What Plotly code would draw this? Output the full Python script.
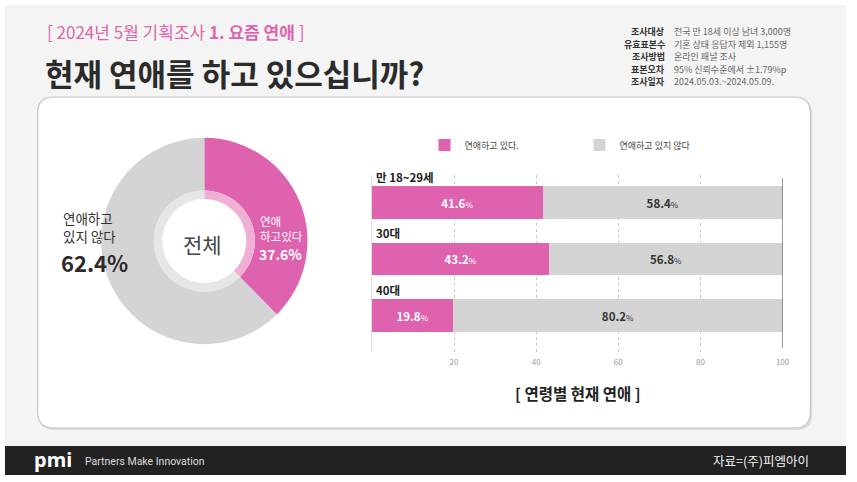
import plotly.graph_objects as go

# ---------------- data ----------------
overall_labels = ["연애하고 있다", "연애하고 있지 않다"]
overall_values = [37.6, 62.4]

age_groups = ["만 18~29세", "30대", "40대"]
dating_yes = [41.6, 43.2, 19.8]
dating_no = [58.4, 56.8, 80.2]
series_names = ["연애하고 있다.", "연애하고 있지 않다"]
x_ticks = [20, 40, 60, 80, 100]

info_labels = ["조사대상", "유효표본수", "조사방법", "표본오차", "조사일자"]
info_values = ["전국 만 18세 이상 남녀 3,000명", "기혼 상태 응답자 제외 1,155명",
               "온라인 패널 조사", "95% 신뢰수준에서 ±1.79%p", "2024.05.03.~2024.05.09."]

# ---------------- style ----------------
W, H = 857, 482
PINK = "#df62ae"
GRAY = "#d4d4d4"
FONT = "Noto Sans CJK KR"


def px(x):
    return x / W


def py(y):
    return 1 - y / H


def rounded_rect(x0, y0, x1, y1, r):
    rx, ry = r / W, r / H
    X0, X1 = px(x0), px(x1)
    Y0, Y1 = py(y0), py(y1)  # Y0 top, Y1 bottom
    return (f"M{X0+rx},{Y0} L{X1-rx},{Y0} Q{X1},{Y0} {X1},{Y0-ry} "
            f"L{X1},{Y1+ry} Q{X1},{Y1} {X1-rx},{Y1} L{X0+rx},{Y1} "
            f"Q{X0},{Y1} {X0},{Y1+ry} L{X0},{Y0-ry} Q{X0},{Y0} {X0+rx},{Y0} Z")


fig = go.Figure()

# ---------------- donut ----------------
cx, cy, R = 206, 241, 104
fig.add_trace(go.Pie(
    labels=overall_labels, values=overall_values, sort=False, direction="clockwise",
    rotation=0, hole=0.49, marker=dict(colors=[PINK, GRAY], line=dict(width=0)),
    textinfo="none", hoverinfo="label+percent", showlegend=False,
    domain=dict(x=[px(cx - R), px(cx + R)], y=[py(cy + R), py(cy - R)]),
))
r2 = R * 0.49
fig.add_trace(go.Pie(
    labels=overall_labels, values=overall_values, sort=False, direction="clockwise",
    rotation=0, hole=0.83, marker=dict(colors=["#f0b0d6", "#e6e6e6"], line=dict(width=0)),
    textinfo="none", hoverinfo="skip", showlegend=False,
    domain=dict(x=[px(cx - r2), px(cx + r2)], y=[py(cy + r2), py(cy - r2)]),
))

# ---------------- stacked bars ----------------
def pct_text(v):
    return f"<b>{v}</b><span style='font-size:8px'>%</span>"


fig.add_trace(go.Bar(
    y=age_groups, x=dating_yes, name=series_names[0], orientation="h",
    marker=dict(color=PINK, line=dict(width=0)), width=0.576,
    text=[pct_text(v) for v in dating_yes], textposition="inside",
    insidetextanchor="middle", textangle=0, constraintext="none",
    insidetextfont=dict(color="white", size=11.5, family=FONT),
    xaxis="x", yaxis="y",
))
fig.add_trace(go.Bar(
    y=age_groups, x=dating_no, name=series_names[1], orientation="h",
    marker=dict(color=GRAY, line=dict(width=0)), width=0.576,
    text=[pct_text(v) for v in dating_no], textposition="inside",
    insidetextanchor="middle", textangle=0, constraintext="none",
    insidetextfont=dict(color="#333333", size=11.5, family=FONT),
    xaxis="x", yaxis="y",
))

# ---------------- shapes ----------------
shapes = [
    dict(type="rect", xref="paper", yref="paper", x0=px(5), x1=px(853), y0=py(446), y1=py(5),
         fillcolor="#f4f4f4", line=dict(width=0), layer="below"),
    dict(type="rect", xref="paper", yref="paper", x0=px(5), x1=px(853), y0=py(475), y1=py(446),
         fillcolor="#222222", line=dict(width=0), layer="below"),
    dict(type="path", xref="paper", yref="paper", path=rounded_rect(39, 99, 819, 430, 16),
         fillcolor="#dcdcdc", line=dict(width=0), layer="below"),
    dict(type="path", xref="paper", yref="paper", path=rounded_rect(38, 97, 817, 428, 16),
         fillcolor="white", line=dict(color="#c4c4c4", width=1.2), layer="below"),
    dict(type="line", xref="x", yref="y domain", x0=100, x1=100, y0=0.02, y1=0.98,
         line=dict(color="#555555", width=1.2)),
]

# ---------------- annotations ----------------
ann = []
ann.append(dict(text="[ 2024년 5월 기획조사 <b>1. 요즘 연애</b> ]", x=px(45), y=py(32),
                xref="paper", yref="paper", xanchor="left", yanchor="middle", showarrow=False,
                font=dict(family=FONT, size=17, color="#e065ae")))
ann.append(dict(text="<b>현재 연애를 하고 있으십니까?</b>", x=px(43), y=py(72),
                xref="paper", yref="paper", xanchor="left", yanchor="middle", showarrow=False,
                font=dict(family=FONT, size=31, color="#2b2b2b")))
for i, (lab, val) in enumerate(zip(info_labels, info_values)):
    yy = py(32 + i * 12.4)
    ann.append(dict(text=f"<b>{lab}</b>", x=px(672), y=yy, xref="paper", yref="paper",
                    xanchor="right", yanchor="middle", showarrow=False,
                    font=dict(family=FONT, size=9, color="#333333")))
    ann.append(dict(text=val, x=px(678), y=yy, xref="paper", yref="paper",
                    xanchor="left", yanchor="middle", showarrow=False,
                    font=dict(family=FONT, size=9, color="#666666")))

# donut labels
ann.append(dict(text="전체", x=px(cx - 2), y=py(cy + 3), xref="paper", yref="paper",
                xanchor="center", yanchor="middle", showarrow=False,
                font=dict(family=FONT, size=21, color="#444444")))
ann.append(dict(text="연애<br>하고있다", x=px(260), y=py(228), xref="paper", yref="paper",
                xanchor="left", yanchor="middle", align="left", showarrow=False,
                font=dict(family=FONT, size=11.5, color="white")))
ann.append(dict(text=f"<b>{overall_values[0]}%</b>", x=px(259), y=py(254), xref="paper", yref="paper",
                xanchor="left", yanchor="middle", showarrow=False,
                font=dict(family=FONT, size=14, color="white")))
ann.append(dict(text="연애하고<br>있지 않다", x=px(61), y=py(227), xref="paper", yref="paper",
                xanchor="left", yanchor="middle", align="left", showarrow=False,
                font=dict(family=FONT, size=13.5, color="#333333")))
ann.append(dict(text=f"<b>{overall_values[1]}%</b>", x=px(59), y=py(262), xref="paper", yref="paper",
                xanchor="left", yanchor="middle", showarrow=False,
                font=dict(family=FONT, size=22, color="#2b2b2b")))

# category labels above bars
for g in age_groups:
    ann.append(dict(text=f"<b>{g}</b>", x=0, y=g, xref="x", yref="y", xanchor="left",
                    yanchor="bottom", yshift=16, xshift=2, showarrow=False,
                    font=dict(family=FONT, size=11.5, color="#222222")))

ann.append(dict(text="<b>[ 연령별 현재 연애 ]</b>", x=px(583), y=py(393), xref="paper", yref="paper",
                xanchor="center", yanchor="middle", showarrow=False,
                font=dict(family=FONT, size=15.5, color="#222222")))

# footer
ann.append(dict(text="<b>pmi</b>", x=px(32), y=py(459), xref="paper", yref="paper",
                xanchor="left", yanchor="middle", showarrow=False,
                font=dict(family="Noto Sans", size=20, color="white")))
ann.append(dict(text="Partners Make Innovation", x=px(84), y=py(461), xref="paper", yref="paper",
                xanchor="left", yanchor="middle", showarrow=False,
                font=dict(family="Roboto", size=10.5, color="#dddddd")))
ann.append(dict(text="자료=(주)피엠아이", x=px(818), y=py(460), xref="paper", yref="paper",
                xanchor="right", yanchor="middle", showarrow=False,
                font=dict(family=FONT, size=12.5, color="#f2f2f2")))

fig.update_layout(
    autosize=True, margin=dict(l=0, r=0, t=0, b=0),
    paper_bgcolor="white", plot_bgcolor="rgba(0,0,0,0)",
    barmode="stack", bargap=0.4,
    font=dict(family=FONT),
    shapes=shapes, annotations=ann,
    xaxis=dict(domain=[px(375), px(789)], range=[0, 100], tickvals=x_ticks,
               showgrid=True, gridcolor="#c8c8c8", griddash="dot", gridwidth=1,
               zeroline=True, zerolinecolor="#dddddd", zerolinewidth=1,
               showline=False, ticks="", tickfont=dict(size=8, color="#9a9a9a", family=FONT),
               ticklabelstandoff=4, fixedrange=True),
    yaxis=dict(domain=[py(351.5), py(174.5)], autorange="reversed", showticklabels=False,
               showgrid=False, zeroline=False, showline=False, ticks="", fixedrange=True),
    legend=dict(orientation="h", traceorder="normal", x=px(428), y=py(145),
                xanchor="left", yanchor="middle",
                entrywidth=110, entrywidthmode="pixels", bgcolor="rgba(0,0,0,0)",
                font=dict(size=9, color="#444444", family=FONT), itemclick=False),
)

fig.write_html(
    "out.html",
    default_width="100vw", default_height="100vh",
    config={"displayModeBar": False, "responsive": True},
    post_script=("document.documentElement.style.margin='0';"
                 "document.documentElement.style.overflow='hidden';"
                 "document.body.style.margin='0';document.body.style.overflow='hidden';"
                 "window.dispatchEvent(new Event('resize'));"),
)
